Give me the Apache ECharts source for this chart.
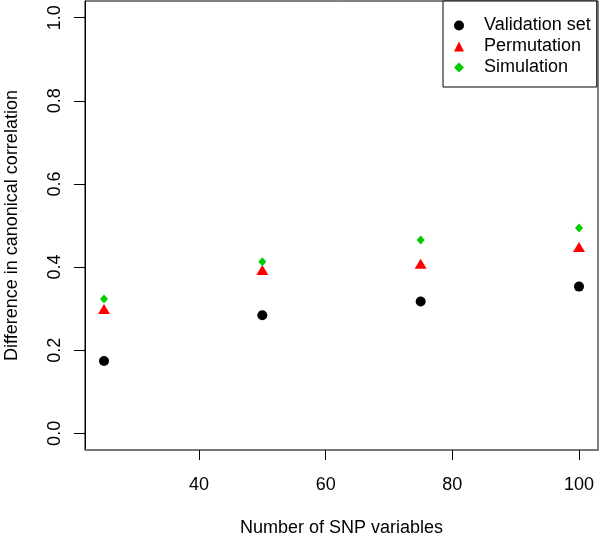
<!DOCTYPE html>
<html>
<head>
<meta charset="utf-8">
<script src="https://cdn.jsdelivr.net/npm/echarts@6/dist/echarts.min.js"></script>
<style>
html,body{margin:0;padding:0;background:#fff;}
#chart{width:600px;height:539px;}
</style>
</head>
<body>
<div id="chart"></div>
<script>
var snpCounts = [25, 50, 75, 100];
var validationSet = [0.174, 0.284, 0.317, 0.353];
var permutation = [0.299, 0.393, 0.408, 0.448];
var simulation = [0.323, 0.413, 0.465, 0.494];
var xTicks = [40, 60, 80, 100];
var yTicks = [0, 0.2, 0.4, 0.6, 0.8, 1.0];

function pairs(xs, ys) { return xs.map(function (x, i) { return [x, ys[i]]; }); }

var FONT = "'Liberation Sans', Arial, sans-serif";
var chart = echarts.init(document.getElementById('chart'), null, {renderer: 'canvas'});
chart.setOption({
  animation: false,
  backgroundColor: '#ffffff',
  grid: {left: 85, top: 1, right: 2, bottom: 89, show: true, borderColor: '#000', borderWidth: 1,
    backgroundColor: 'transparent', containLabel: false, outerBoundsMode: 'none'},
  xAxis: {
    type: 'value', min: 22, max: 103,
    name: 'Number of SNP variables', nameLocation: 'middle', nameGap: 69,
    nameTextStyle: {fontFamily: FONT, fontSize: 18, color: '#000'},
    axisLine: {show: true, onZero: false, lineStyle: {color: '#777', width: 2}},
    axisTick: {show: true, length: 10, customValues: xTicks, lineStyle: {color: '#000'}},
    axisLabel: {customValues: xTicks, margin: 26, fontFamily: FONT, fontSize: 18, color: '#000'},
    splitLine: {show: false}
  },
  yAxis: {
    type: 'value', min: -0.04, max: 1.04,
    name: 'Difference in canonical correlation', nameLocation: 'middle', nameGap: 64,
    nameTextStyle: {fontFamily: FONT, fontSize: 18, color: '#000'},
    axisLine: {show: true, onZero: false, lineStyle: {color: '#000', width: 1}},
    axisTick: {show: true, length: 11, customValues: yTicks, lineStyle: {color: '#000'}},
    axisLabel: {customValues: yTicks, rotate: 90, margin: 21, fontFamily: FONT, fontSize: 18, color: '#000',
      formatter: function (v) { return v.toFixed(1); }},
    splitLine: {show: false}
  },
  legend: {
    orient: 'vertical', left: 443, top: 1,
    padding: [14, 6, 9, 11],
    itemWidth: 10, itemHeight: 10, itemGap: 0,
    borderColor: '#000', borderWidth: 1, backgroundColor: '#fff',
    textStyle: {fontFamily: FONT, fontSize: 18, color: '#000', padding: [0, 0, 0, 15], lineHeight: 21},
    data: [
      {name: 'Validation set', icon: 'circle'},
      {name: 'Permutation', icon: 'triangle'},
      {name: 'Simulation', icon: 'diamond'}
    ]
  },
  series: [
    {name: 'Validation set', type: 'scatter', symbol: 'circle', symbolSize: 10,
     itemStyle: {color: '#000000', opacity: 1}, data: pairs(snpCounts, validationSet)},
    {name: 'Permutation', type: 'scatter', symbol: 'triangle', symbolSize: [12, 10],
     itemStyle: {color: '#ff0000', opacity: 1}, data: pairs(snpCounts, permutation)},
    {name: 'Simulation', type: 'scatter', symbol: 'diamond', symbolSize: [8, 9],
     itemStyle: {color: '#00cd00', opacity: 1}, data: pairs(snpCounts, simulation)}
  ]
});
</script>
</body>
</html>
